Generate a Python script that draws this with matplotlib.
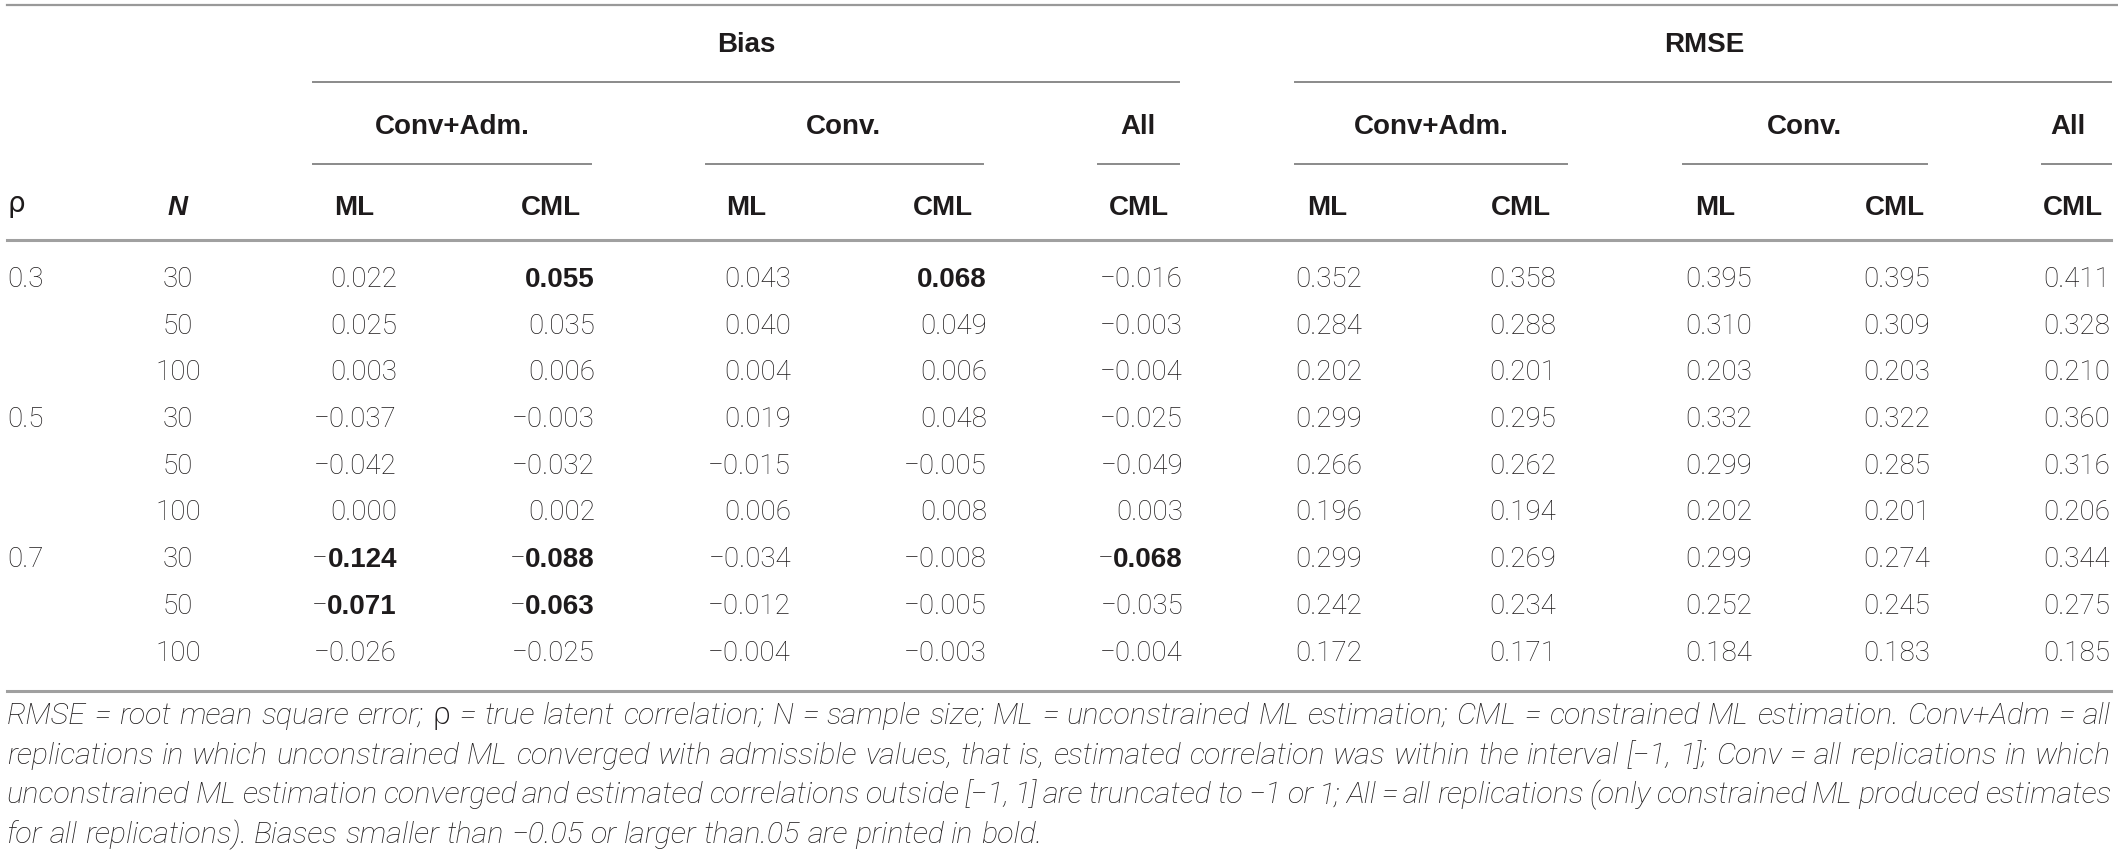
import matplotlib
matplotlib.use('Agg')
import matplotlib.pyplot as plt

plt.rcParams['font.family'] = ['Liberation Sans', 'DejaVu Sans']

# -- table data

rho_levels = ['0.3', '0.5', '0.7']
n_levels = ['30', '50', '100']

bias_conv_adm_ml = [0.022, 0.025, 0.003, -0.037, -0.042, 0.000, -0.124, -0.071, -0.026]
bias_conv_adm_cml = [0.055, 0.035, 0.006, -0.003, -0.032, 0.002, -0.088, -0.063, -0.025]
bias_conv_ml = [0.043, 0.040, 0.004, 0.019, -0.015, 0.006, -0.034, -0.012, -0.004]
bias_conv_cml = [0.068, 0.049, 0.006, 0.048, -0.005, 0.008, -0.008, -0.005, -0.003]
bias_all_cml = [-0.016, -0.003, -0.004, -0.025, -0.049, 0.003, -0.068, -0.035, -0.004]

rmse_conv_adm_ml = [0.352, 0.284, 0.202, 0.299, 0.266, 0.196, 0.299, 0.242, 0.172]
rmse_conv_adm_cml = [0.358, 0.288, 0.201, 0.295, 0.262, 0.194, 0.269, 0.234, 0.171]
rmse_conv_ml = [0.395, 0.310, 0.203, 0.332, 0.299, 0.202, 0.299, 0.252, 0.184]
rmse_conv_cml = [0.395, 0.309, 0.203, 0.322, 0.285, 0.201, 0.274, 0.245, 0.183]
rmse_all_cml = [0.411, 0.328, 0.210, 0.360, 0.316, 0.206, 0.344, 0.275, 0.185]

group_labels = ['Bias', 'RMSE']
subgroup_labels = ['Conv+Adm.', 'Conv.', 'All']
column_labels = ['ML', 'CML', 'ML', 'CML', 'CML', 'ML', 'CML', 'ML', 'CML', 'CML']

footnote_lines = [
    'RMSE = root mean square error; ρ = true latent correlation; N = sample size; '
    'ML = unconstrained ML estimation; CML = constrained ML estimation. Conv+Adm = all',
    'replications in which unconstrained ML converged with admissible values, that is, '
    'estimated correlation was within the interval [−1, 1]; Conv = all replications in which',
    'unconstrained ML estimation converged and estimated correlations outside [−1, 1] '
    'are truncated to −1 or 1; All = all replications (only constrained ML produced estimates',
    'for all replications). Biases smaller than −0.05 or larger than.05 are printed in bold.',
]

columns = [bias_conv_adm_ml, bias_conv_adm_cml, bias_conv_ml, bias_conv_cml, bias_all_cml,
           rmse_conv_adm_ml, rmse_conv_adm_cml, rmse_conv_ml, rmse_conv_cml, rmse_all_cml]
is_bias = [True] * 5 + [False] * 5

# -- layout (pixel units)

W, H = 2118, 850
TXT = '#1e1b1c'
RULE = '#a0a0a0'
FS = 20
LIGHT = ['Roboto', 'Liberation Sans', 'DejaVu Sans']

col_right = [397, 595, 791, 987, 1183, 1362, 1556, 1752, 1930, 2110]
col_head = [354, 551, 746, 943, 1139, 1327, 1521, 1715, 1895, 2073]
group_x = [746, 1704]
group_spans = [(313, 1179), (1295, 2111)]
sub_x = [452, 843, 1138, 1431, 1804, 2068]
sub_spans = [(313, 591), (706, 983), (1098, 1179), (1295, 1567), (1683, 1927), (2042, 2111)]
row0, row_step = 287, 46.7
foot_left, foot_right, last_line_end = 7, 2111, 1040


def fmt(v):
    return '{:.3f}'.format(v).replace('-', '\u2212')


fig = plt.figure(figsize=(W / 100, H / 100), dpi=100)
ax = fig.add_axes([0, 0, 1, 1])
ax.set_xlim(0, W)
ax.set_ylim(H, 0)
ax.axis('off')
renderer = fig.canvas.get_renderer()

# rules
ax.plot([7, W], [5, 5], color='#999999', lw=1.6)
for x0, x1 in group_spans:
    ax.plot([x0, x1], [82, 82], color='#8a8a8a', lw=1.4)
for x0, x1 in sub_spans:
    ax.plot([x0, x1], [164, 164], color='#8a8a8a', lw=1.4)
ax.plot([7, W - 7], [239.5, 239.5], color=RULE, lw=2.2)
ax.plot([7, W - 7], [691, 691], color=RULE, lw=2.2)

# headers
for lbl, x in zip(group_labels, group_x):
    ax.text(x, 52, lbl, ha='center', va='baseline', fontsize=FS, fontweight='bold', color=TXT)
for i, x in enumerate(sub_x):
    ax.text(x, 134, subgroup_labels[i % 3], ha='center', va='baseline',
            fontsize=FS, fontweight='bold', color=TXT)
ax.text(7, 212, 'ρ', ha='left', va='baseline', fontsize=FS, color=TXT, family='DejaVu Sans')
ax.text(178, 215, 'N', ha='center', va='baseline', fontsize=FS, fontweight='bold',
        style='italic', color=TXT)
for lbl, x in zip(column_labels, col_head):
    ax.text(x, 215, lbl, ha='center', va='baseline', fontsize=FS, fontweight='bold', color=TXT)

# body
light = dict(fontsize=FS, color=TXT, family=LIGHT, fontweight='light', va='baseline')
for r in range(len(bias_all_cml)):
    y = row0 + r * row_step
    if r % 3 == 0:
        ax.text(7, y, rho_levels[r // 3], ha='left', **light)
    ax.text(178, y, n_levels[r % 3], ha='center', **light)
    for c, vals in enumerate(columns):
        v = vals[r]
        if is_bias[c] and abs(v) > 0.05:
            # bold digits, the minus stays light as in the source
            t = ax.text(col_right[c], y, fmt(abs(v)), ha='right', va='baseline',
                        fontsize=FS, fontweight='bold', color=TXT)
            if v < 0:
                wd = t.get_window_extent(renderer).width
                ax.text(col_right[c] - wd, y, '\u2212', ha='right', **light)
        else:
            ax.text(col_right[c], y, fmt(v), ha='right', **light)

# footnote, justified like the source; size set so the last line ends where it does there
foot_kw = dict(style='italic', color=TXT, va='baseline', ha='left', family=LIGHT,
               fontweight='light')
probe = ax.text(0, 0, footnote_lines[-1], fontsize=20, **foot_kw)
foot_fs = 20 * (last_line_end - foot_left) / probe.get_window_extent(renderer).width
probe.remove()

for li, line in enumerate(footnote_lines):
    y = 724 + li * 39.7
    words = line.split(' ')
    texts = []
    for w in words:
        kw = dict(foot_kw)
        if w == 'ρ':
            kw['style'] = 'normal'
            kw['family'] = 'DejaVu Sans'
        texts.append(ax.text(0, y, w, fontsize=foot_fs, **kw))
    widths = [t.get_window_extent(renderer).width for t in texts]
    if li < len(footnote_lines) - 1:
        gap = (foot_right - foot_left - sum(widths)) / (len(words) - 1)
    else:
        sp = ax.text(0, 0, 'a a', fontsize=foot_fs, **foot_kw)
        sp2 = ax.text(0, 0, 'aa', fontsize=foot_fs, **foot_kw)
        gap = sp.get_window_extent(renderer).width - sp2.get_window_extent(renderer).width
        sp.remove()
        sp2.remove()
    x = foot_left
    for t, wd in zip(texts, widths):
        t.set_x(x)
        x += wd + gap

fig.savefig('out.png', dpi=100)
